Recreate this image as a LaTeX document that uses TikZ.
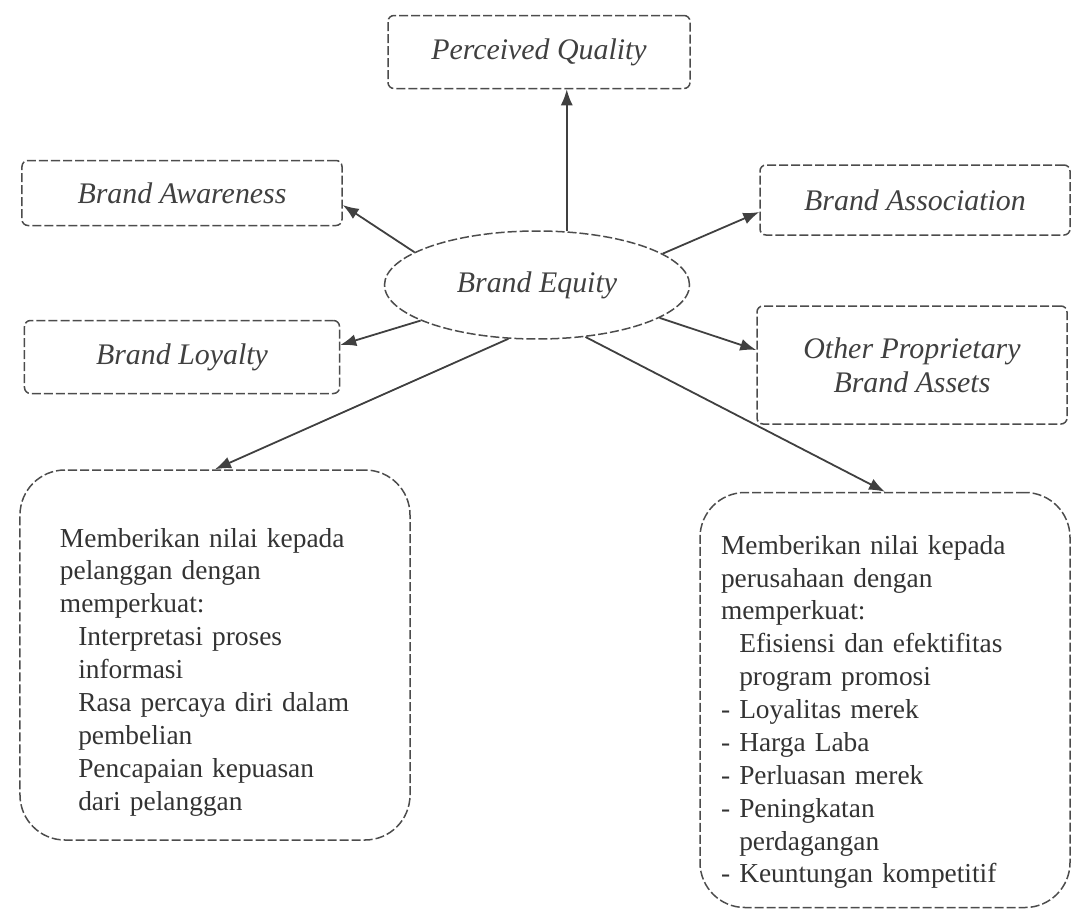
\documentclass[tikz,border=0pt]{standalone}
\usepackage{fontspec}
\setmainfont{Liberation Serif}
\usetikzlibrary{shapes.geometric,arrows.meta,calc}
\begin{document}
\begin{tikzpicture}[x=1bp,y=-1bp,
  lab/.style={draw=black!70, line width=1.5bp, dash pattern=on 9bp off 3bp,
    rounded corners=6bp, font=\fontsize{30}{34}\selectfont\itshape, text=black!75},
  bigbox/.style={draw=black!70, line width=1.5bp, dash pattern=on 9bp off 3bp,
    rounded corners=45bp},
  bodytext/.style={font=\fontsize{27.5}{33}\selectfont, text=black!80,
    align=left, text width=318bp, inner sep=0pt},
  conn/.style={draw=black!75, line width=1.8bp, -{Latex[length=16bp,width=12bp]}}]
\useasboundingbox (0,0) rectangle (1072,919);
\node[lab, minimum width=302bp, minimum height=73bp] (pq) at (539,52) {Perceived Quality};
\node[lab, minimum width=320bp, minimum height=65bp] (ba) at (182,193) {Brand Awareness};
\node[lab, minimum width=310bp, minimum height=70bp] (bas) at (915,200) {Brand Association};
\node[lab, minimum width=315bp, minimum height=73bp] (bl) at (182,357) {Brand Loyalty};
\node[lab, minimum width=310bp, minimum height=118bp, align=center] (op) at (912,365) {Other Proprietary\\Brand Assets};
\node[ellipse, draw=black!70, line width=1.5bp, dash pattern=on 9bp off 3bp,
  minimum width=305bp, minimum height=108bp, inner sep=0pt,
  font=\fontsize{30}{34}\selectfont\itshape, text=black!75] (be) at (537,285) {Brand Equity};
\node[bigbox, minimum width=390bp, minimum height=370bp] (lb) at (215,655) {};
\node[bodytext] (lbt) at (219,672) {%
Memberikan nilai kepada\\
pelanggan dengan\\
memperkuat:\\
\phantom{- }Interpretasi proses\\
\phantom{- }informasi\\
\phantom{- }Rasa percaya diri dalam\\
\phantom{- }pembelian\\
\phantom{- }Pencapaian kepuasan\\
\phantom{- }dari pelanggan};
\node[bigbox, minimum width=370bp, minimum height=415bp] (rb) at (885,700) {};
\node[bodytext] (rbt) at (880,712) {%
Memberikan nilai kepada\\
perusahaan dengan\\
memperkuat:\\
\phantom{- }Efisiensi dan efektifitas\\
\phantom{- }program promosi\\
- Loyalitas merek\\
- Harga Laba\\
- Perluasan merek\\
- Peningkatan\\
\phantom{- }perdagangan\\
- Keuntungan kompetitif};
\draw[conn] (be.61) -- (be.61 |- pq.south);
\draw[conn] (be.165) -- ($(ba.east)+(0,12)$);
\draw[conn] (be.197) -- ($(bl.east)+(0,-12)$);
\draw[conn] (be.14) -- ($(bas.west)+(0,12)$);
\draw[conn] (be.-15) -- ($(op.west)+(0,-15)$);
\draw[conn] (be.242) -- (lb.north);
\draw[conn] (be.-47) -- (rb.north);
\end{tikzpicture}
\end{document}
